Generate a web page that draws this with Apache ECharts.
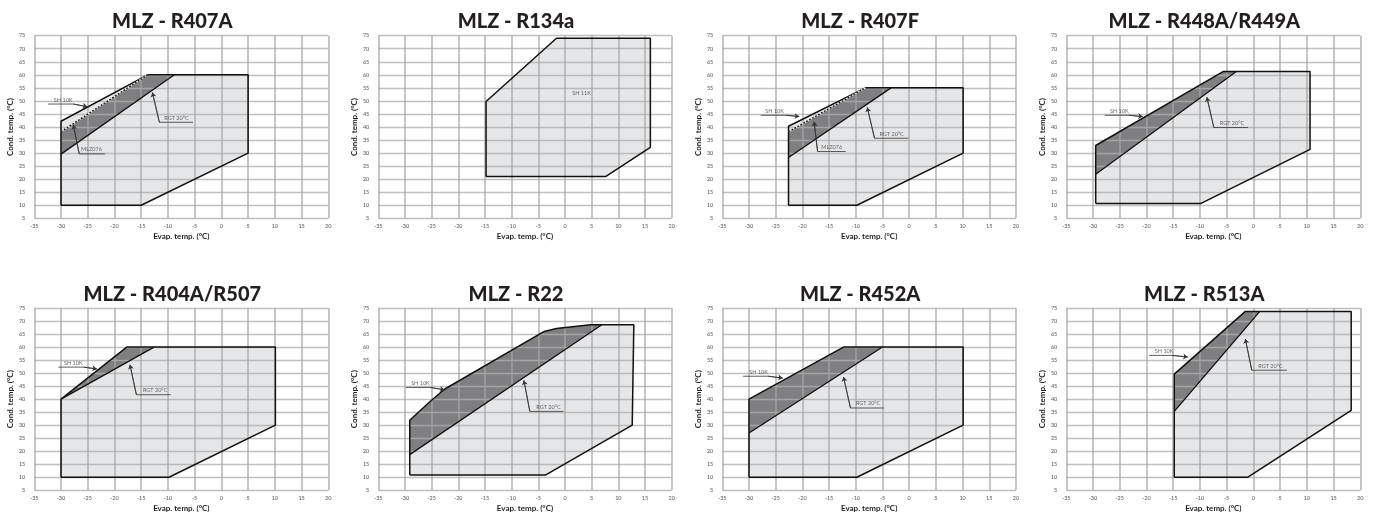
<!DOCTYPE html>
<html><head><meta charset="utf-8">
<script src="https://cdn.jsdelivr.net/npm/echarts@6/dist/echarts.min.js"></script>
<style>html,body{margin:0;padding:0;background:#fff}#c{width:1377px;height:517px}</style>
</head><body><div id="c"></div>
<script>
// ---- tick values ----
const xTickValues = [-35, -30, -25, -20, -15, -10, -5, 0, 5, 10, 15, 20];
const yTickValues = [5, 10, 15, 20, 25, 30, 35, 40, 45, 50, 55, 60, 65, 70, 75];
const xAxisName = 'Evap. temp. (°C)';
const yAxisName = 'Cond. temp. (°C)';
const titles = ['MLZ - R407A', 'MLZ - R134a', 'MLZ - R407F', 'MLZ - R448A/R449A',
                'MLZ - R404A/R507', 'MLZ - R22', 'MLZ - R452A', 'MLZ - R513A'];

// ---- envelopes [evap, cond] ----
const outerR407A = [[-30,10],[-15,10],[5,30],[5,60],[-13.8,60],[-30,42.2]];
const darkR407A  = [[-30,29.6],[-30,38.2],[-13.8,60],[-8.8,60]];
const rgtR407A   = [[-30,29.6],[-8.8,60]];
const dashR407A  = [[-30,38.2],[-13.8,60]];

const outerR134a = [[-14.8,21],[7.6,21],[16,32.2],[16,74],[-1.6,74],[-14.8,49.8]];

const outerR407F = [[-22.6,10],[-9.8,10],[10.1,30],[10.1,55],[-8.2,55],[-22.6,40.3]];
const darkR407F  = [[-22.6,28.3],[-22.6,38.2],[-8.2,55],[-3.4,55]];
const rgtR407F   = [[-22.6,28.3],[-3.4,55]];
const dashR407F  = [[-22.6,38.2],[-8.2,55]];

const outerR448A = [[-29.5,10.7],[-9.8,10.7],[10.6,31.4],[10.6,61.3],[-5.6,61.3],[-29.5,32.9]];
const darkR448A  = [[-29.5,21.9],[-29.5,32.9],[-5.6,61.3],[-3.2,61.3]];
const rgtR448A   = [[-29.5,21.9],[-3.2,61.3]];

const outerR404A = [[-30,10],[-9.8,10],[10.1,30],[10.1,60],[-17.7,60],[-30,40]];
const darkR404A  = [[-30,40],[-17.7,60],[-12.6,60]];
const rgtR404A   = [[-30,40],[-12.6,60]];

const outerR22 = [[-29.1,10.9],[-3.6,10.9],[12.6,30],[12.9,68.6],[6.9,68.6],[4.8,68.6],[-1.6,67.1],[-3.9,66],[-22.6,43.8],[-25.6,38.5],[-29.1,31.9]];
const darkR22  = [[-29.1,18.7],[-29.1,31.9],[-25.6,38.5],[-22.6,43.8],[-3.9,66],[-1.6,67.1],[4.8,68.6],[6.9,68.6]];
const rgtR22   = [[-29.1,18.7],[6.9,68.6]];

const outerR452A = [[-30,10],[-9.8,10],[10.1,30],[10.1,60],[-12.3,60],[-30,40]];
const darkR452A  = [[-30,27],[-30,40],[-12.3,60],[-5,60]];
const rgtR452A   = [[-30,27],[-5,60]];

const outerR513A = [[-14.8,10],[-1.1,10],[18.3,35.7],[18.3,73.7],[-1.5,73.7],[-14.8,49.6]];
const darkR513A  = [[-14.8,35.3],[-14.8,49.6],[-1.5,73.7],[1.2,73.7]];
const rgtR513A   = [[-14.8,35.3],[1.2,73.7]];

// ---- annotations (arrow at last point of path) ----
const notesR407A = [
  {text:'SH 10K', path:[[-32.4,48.8],[-27.7,48.8],[-25.1,47.8]], at:[-29.6,48.8]},
  {text:'MLZ076', path:[[-21.8,29.7],[-26.6,29.7],[-27.7,40.8]], at:[-24.3,29.7]},
  {text:'RGT 20°C', path:[[-5.3,41.8],[-11.6,41.8],[-12.9,53.2]], at:[-8.4,41.8]}
];
const notesR134a = [{text:'SH 11K', path:null, at:[3.1,52.8]}];
const notesR407F = [
  {text:'SH 10K', path:[[-27.8,44.5],[-23,44.5],[-20.6,44]], at:[-25.2,44.5]},
  {text:'MLZ076', path:[[-11.9,30.6],[-17.15,30.6],[-17.8,42]], at:[-14.5,30.6]},
  {text:'RGT 20°C', path:[[-0.2,35.7],[-6.5,35.7],[-7.85,47.5]], at:[-3.3,35.7]}
];
const notesR448A = [
  {text:'SH 10K', path:[[-27.8,44.5],[-23.3,44.5],[-20.7,44]], at:[-25.1,44.5]},
  {text:'RGT 20°C', path:[[-1,39.8],[-7.4,39.8],[-8.7,51.4]], at:[-4,39.8]}
];
const notesR404A = [
  {text:'SH 10K', path:[[-30.5,52.3],[-25.8,52.3],[-23.3,51.6]], at:[-27.7,52.3]},
  {text:'RGT 20°C', path:[[-9.5,41.7],[-15.9,41.7],[-17.1,53.2]], at:[-12.4,41.7]}
];
const notesR22 = [
  {text:'SH 10K', path:[[-29.8,44.5],[-25.3,44.5],[-22.6,43.6]], at:[-27.1,44.5]},
  {text:'RGT 20°C', path:[[-0.3,35.3],[-6.6,35.3],[-7.7,47.2]], at:[-3.1,35.3]}
];
const notesR452A = [
  {text:'SH 10K', path:[[-31.1,48.8],[-26.4,48.8],[-23.7,48.1]], at:[-28.2,48.8]},
  {text:'RGT 20°C', path:[[-4.7,36.6],[-11,36.6],[-12.3,48.5]], at:[-7.7,36.6]}
];
const notesR513A = [
  {text:'SH 10K', path:[[-19.5,56.8],[-15.2,56.8],[-12.3,56.2]], at:[-16.7,56.8]},
  {text:'RGT 20°C', path:[[6.3,51.1],[-0.3,51.1],[-1.5,63.1]], at:[3.2,51.1]}
];

const panels = [
  {outer:outerR407A, dark:darkR407A, rgt:rgtR407A, dash:dashR407A, notes:notesR407A},
  {outer:outerR134a, dark:null, rgt:null, dash:null, notes:notesR134a},
  {outer:outerR407F, dark:darkR407F, rgt:rgtR407F, dash:dashR407F, notes:notesR407F},
  {outer:outerR448A, dark:darkR448A, rgt:rgtR448A, dash:null, notes:notesR448A},
  {outer:outerR404A, dark:darkR404A, rgt:rgtR404A, dash:null, notes:notesR404A},
  {outer:outerR22, dark:darkR22, rgt:rgtR22, dash:null, notes:notesR22},
  {outer:outerR452A, dark:darkR452A, rgt:rgtR452A, dash:null, notes:notesR452A},
  {outer:outerR513A, dark:darkR513A, rgt:rgtR513A, dash:null, notes:notesR513A}
];

// ---- layout ----
const colLeft = [34.3, 378.3, 722.3, 1066.3];
const colWidth = [294, 293.4, 293.7, 294];
const rowTop = [35.7, 308];
const rowHeight = [182.6, 182.3];
const titleTop = [7, 279.5];

const FONT = 'Lato, "Open Sans", sans-serif';
const grids = [], xAxes = [], yAxes = [], series = [], titleOpts = [];

function polygonFill(gi, pts, fill) {
  return {
    type:'custom', xAxisIndex:gi, yAxisIndex:gi, z:1, silent:true, clip:true,
    data: pts, encode:{x:0, y:1},
    renderItem: function (params, api) {
      if (params.dataIndex !== 0) return null;
      const points = pts.map(p => api.coord(p));
      return {type:'polygon', shape:{points:points}, style:{fill:fill, stroke:'none'}};
    }
  };
}
function lineOf(gi, pts, style, z) {
  return {type:'line', xAxisIndex:gi, yAxisIndex:gi, data:pts, symbol:'none', silent:true,
          z:z, lineStyle:style, animation:false};
}

panels.forEach((p, i) => {
  const r = Math.floor(i / 4), c = i % 4;
  grids.push({left:colLeft[c], top:rowTop[r], width:colWidth[c], height:rowHeight[r], containLabel:false});
  titleOpts.push({
    text: titles[i], left: colLeft[c] + colWidth[c] / 2 - 14, top: titleTop[r], textAlign:'center',
    textStyle:{fontFamily:FONT, fontWeight:900, fontSize:20, color:'#231f20'}
  });
  xAxes.push({
    gridIndex:i, type:'value', min:xTickValues[0], max:xTickValues[xTickValues.length-1],
    interval:xTickValues[1]-xTickValues[0], z:3,
    axisLine:{show:false}, axisTick:{show:false},
    axisLabel:{fontSize:5.5, color:'#555', margin:4.5, fontFamily:FONT, showMinLabel:true, showMaxLabel:true},
    splitLine:{show:true, lineStyle:{color:'rgba(166,166,166,0.8)', width:1.6}},
    name:xAxisName, nameLocation:'middle', nameGap:14,
    nameTextStyle:{fontFamily:FONT, fontWeight:'bold', fontSize:8, color:'#231f20'}
  });
  yAxes.push({
    gridIndex:i, type:'value', min:yTickValues[0], max:yTickValues[yTickValues.length-1],
    interval:yTickValues[1]-yTickValues[0], z:3,
    axisLine:{show:false}, axisTick:{show:false},
    axisLabel:{fontSize:5.5, color:'#555', margin:9, fontFamily:FONT, showMinLabel:true, showMaxLabel:true},
    splitLine:{show:true, lineStyle:{color:'rgba(175,175,175,0.8)', width:1.3}},
    name:yAxisName, nameLocation:'middle', nameGap:19.5,
    nameTextStyle:{fontFamily:FONT, fontWeight:'bold', fontSize:8, color:'#231f20'}
  });

  series.push(polygonFill(i, p.outer, '#e5e6e8'));
  if (p.dark) series.push(polygonFill(i, p.dark, '#7f7f81'));
  series.push(lineOf(i, p.outer.concat([p.outer[0]]), {color:'#111', width:1.5}, 5));
  if (p.rgt) series.push(lineOf(i, p.rgt, {color:'#111', width:1.3}, 5));
  if (p.dash) {
    series.push(lineOf(i, p.dash, {color:'#f2f2f2', width:1.3}, 5));
    series.push(lineOf(i, p.dash, {color:'#111', width:1.3, type:[1.8, 1.6]}, 6));
  }
  p.notes.forEach(n => {
    if (n.path) {
      series.push(lineOf(i, n.path, {color:'#333', width:0.8}, 7));
      const k = n.path.length;
      series.push({
        type:'lines', coordinateSystem:'cartesian2d', xAxisIndex:i, yAxisIndex:i, z:7, silent:true,
        symbol:['none','arrow'], symbolSize:4.5,
        lineStyle:{color:'#333', width:0.8, opacity:1, curveness:0},
        data:[{coords:[n.path[k-2], n.path[k-1]]}]
      });
    }
    series.push({
      type:'scatter', xAxisIndex:i, yAxisIndex:i, z:8, silent:true, symbolSize:1,
      itemStyle:{color:'rgba(0,0,0,0)'},
      data:[n.at],
      label:{show:true, formatter:n.text, position: n.path ? 'top' : 'inside', distance:0.8,
             fontSize:5.5, color:'#444', fontFamily:FONT}
    });
  });
});

const chart = echarts.init(document.getElementById('c'), null, {renderer:'canvas'});
chart.setOption({
  animation:false, backgroundColor:'#ffffff',
  title:titleOpts, grid:grids, xAxis:xAxes, yAxis:yAxes, series:series
});
</script>
</body></html>
